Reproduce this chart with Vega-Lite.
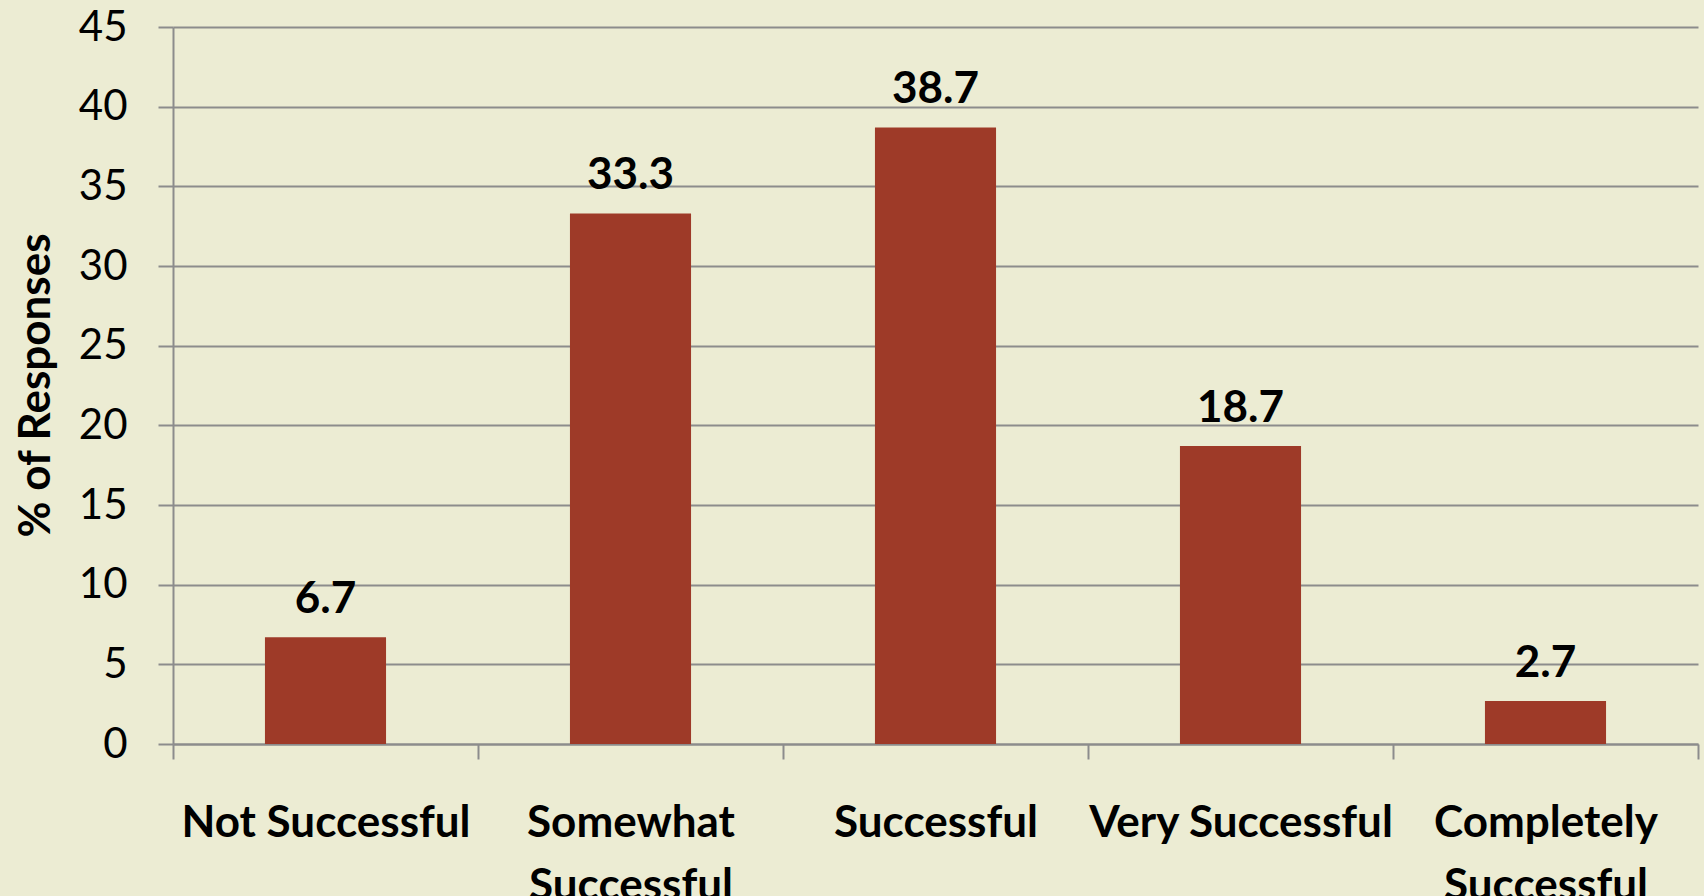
{
  "$schema": "https://vega.github.io/schema/vega-lite/v6.json",
  "width": 1525,
  "height": 717,
  "autosize": {"type": "none"},
  "padding": {"left": 173, "top": 27, "right": 6, "bottom": 152},
  "background": "#ECECD3",
  "config": {
    "view": {"stroke": null},
    "font": "Lato"
  },
  "data": {
    "values": [
      {"category": "Not Successful", "pct": 6.7},
      {"category": "Somewhat Successful", "pct": 33.3},
      {"category": "Successful", "pct": 38.7},
      {"category": "Very Successful", "pct": 18.7},
      {"category": "Completely Successful", "pct": 2.7}
    ]
  },
  "encoding": {
    "x": {
      "field": "category",
      "type": "nominal",
      "sort": null,
      "scale": {"paddingInner": 0, "paddingOuter": 0},
      "axis": {
        "title": null,
        "labelAngle": 0,
        "labelFont": "Lato",
        "labelFontSize": 44,
        "labelFontWeight": "bold",
        "labelColor": "#000000",
        "labelPadding": 42,
        "labelLineHeight": 63,
        "labelBaseline": "top",
        "labelLimit": 0,
        "labelExpr": "indexof(['Somewhat Successful','Completely Successful'], datum.value) >= 0 ? split(datum.value, ' ') : datum.value",
        "tickBand": "extent",
        "tickSize": 15,
        "tickColor": "#8C8C8C",
        "tickWidth": 2,
        "domainColor": "#8C8C8C",
        "domainWidth": 2,
        "grid": false
      }
    },
    "y": {
      "field": "pct",
      "type": "quantitative",
      "scale": {"domain": [0, 45], "nice": false},
      "axis": {
        "title": "% of Responses",
        "titleFont": "Lato",
        "titleFontSize": 44,
        "titleFontWeight": "bold",
        "titleColor": "#000000",
        "titleX": -137,
        "titleY": 358,
        "titleAngle": -90,
        "titleAlign": "center",
        "titleBaseline": "middle",
        "values": [0, 5, 10, 15, 20, 25, 30, 35, 40, 45],
        "labelFont": "Lato",
        "labelFontSize": 42,
        "labelColor": "#000000",
        "labelPadding": 31,
        "tickSize": 15,
        "tickColor": "#8C8C8C",
        "tickWidth": 2,
        "domainColor": "#8C8C8C",
        "domainWidth": 2,
        "grid": true,
        "gridColor": "#8C8C8C",
        "gridWidth": 2
      }
    }
  },
  "layer": [
    {"mark": {"type": "bar", "color": "#9E3A28", "width": {"band": 0.397}}},
    {
      "mark": {
        "type": "text",
        "font": "Lato",
        "fontSize": 44,
        "fontWeight": "bold",
        "color": "#000000",
        "baseline": "alphabetic",
        "dy": -24
      },
      "encoding": {"text": {"field": "pct", "type": "quantitative", "format": ".1f"}}
    }
  ]
}
